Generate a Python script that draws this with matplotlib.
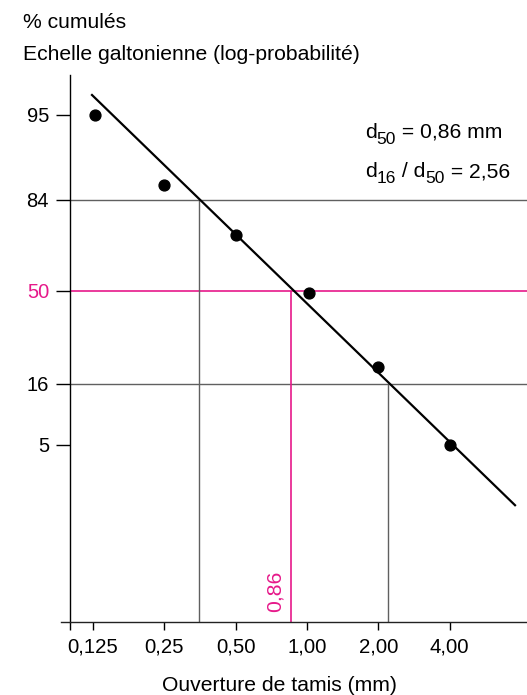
import numpy as np
import matplotlib
matplotlib.use("Agg")
import matplotlib.pyplot as plt

plt.rcParams['font.family'] = ['Liberation Sans', 'DejaVu Sans']

# ---- data ----
sieve_mm = [0.128, 0.25, 0.5, 1.02, 2.0, 4.0]
cum_pct = [95, 86, 71, 49, 22, 5]
fit_x = [0.124, 7.54]
fit_pct = [97.0, 3.3]
d84, d50, d16 = 0.35, 0.86, 2.2
x_ticks = [0.1, 0.125, 0.25, 0.5, 1.0, 2.0, 4.0]
x_labels = ['', '0,125', '0,25', '0,50', '1,00', '2,00', '4,00']
y_ticks = [5, 16, 50, 84, 95]
y_labels = ['5', '16', '50', '84', '95']

MAG = '#e6198a'
GRAY = '#606060'

# galtonian (probability-like) scale anchors, as drawn in the figure
P_A = np.array([0.01, 5, 16, 50, 84, 95, 99])
Y_A = np.array([-331.6, -154, -93, 0, 90.7, 175.7, 215.7])

def fwd(p):
    p = np.asarray(p, float)
    y = np.interp(p, P_A, Y_A)
    s0 = (Y_A[1] - Y_A[0]) / (P_A[1] - P_A[0])
    s1 = (Y_A[-1] - Y_A[-2]) / (P_A[-1] - P_A[-2])
    y = np.where(p < P_A[0], Y_A[0] + (p - P_A[0]) * s0, y)
    y = np.where(p > P_A[-1], Y_A[-1] + (p - P_A[-1]) * s1, y)
    return y

def inv(y):
    y = np.asarray(y, float)
    p = np.interp(y, Y_A, P_A)
    s0 = (P_A[1] - P_A[0]) / (Y_A[1] - Y_A[0])
    s1 = (P_A[-1] - P_A[-2]) / (Y_A[-1] - Y_A[-2])
    p = np.where(y < Y_A[0], P_A[0] + (y - Y_A[0]) * s0, p)
    p = np.where(y > Y_A[-1], P_A[-1] + (y - Y_A[-1]) * s1, p)
    return p

W, H = 527, 695
fig = plt.figure(figsize=(W / 100, H / 100), dpi=100)
ax = fig.add_axes([60.7 / W, 1 - 622.3 / H, 1 - 60.7 / W, (622.3 - 75) / H])

ax.set_xscale('log', base=2)
ax.set_yscale('function', functions=(fwd, inv))
ax.set_xlim(0.0915, 8.47)
ax.set_ylim(0.01, 99)

# reference lines
xl = ax.get_xlim()
ax.hlines([84, 16], x_ticks[0], xl[1], color=GRAY, lw=1.0, zorder=1)
ax.hlines(50, x_ticks[0], xl[1], color=MAG, lw=1.2, zorder=1)
ax.vlines([d84], 0.01, 84, color=GRAY, lw=1.0, zorder=1)
ax.vlines([d16], 0.01, 16, color=GRAY, lw=1.0, zorder=1)
ax.vlines([d50], 0.01, 50, color=MAG, lw=1.2, zorder=1)

# fit line and points
ax.plot(fit_x, fit_pct, color='black', lw=1.6, zorder=3)
ax.plot(sieve_mm, cum_pct, 'o', color='black', ms=7.8, zorder=4)

# axes styling
for s in ['top', 'right']:
    ax.spines[s].set_visible(False)
ax.spines['left'].set_position(('data', x_ticks[0]))
ax.spines['left'].set_linewidth(1.0)
ax.spines['bottom'].set_linewidth(1.0)
ax.spines['bottom'].set_color('#222222')

ax.set_xticks(x_ticks)
ax.set_xticklabels(x_labels)
ax.xaxis.set_minor_locator(matplotlib.ticker.NullLocator())
ax.set_yticks(y_ticks)
ax.set_yticklabels(y_labels)
ax.yaxis.set_minor_locator(matplotlib.ticker.NullLocator())
ax.tick_params(axis='x', length=6, width=1.0, pad=5, labelsize=14.7)
ax.tick_params(axis='y', length=10, width=1.0, pad=5, labelsize=14.5)

for t, v in zip(ax.yaxis.get_major_ticks(), y_ticks):
    if v == 50:
        t.tick1line.set_color(MAG)
        t.label1.set_color(MAG)

FS = 15.2
# texts
fig.text(22.7 / W, 1 - 28 / H, '% cumulés', fontsize=FS, ha='left', va='baseline')
fig.text(22.7 / W, 1 - 60 / H, 'Echelle galtonienne (log-probabilité)', fontsize=FS,
         ha='left', va='baseline')
fig.text(279 / W, 1 - 691 / H, 'Ouverture de tamis (mm)', fontsize=FS, ha='center',
         va='baseline')

renderer = fig.canvas.get_renderer()

def rich(x_px, base_px, pieces):
    x = x_px
    for s, size, dy in pieces:
        t = fig.text(x / W, 1 - (base_px + dy) / H, s, fontsize=size, ha='left',
                     va='baseline')
        bb = t.get_window_extent(renderer=renderer)
        x += bb.width

SUB = 12.5
rich(365, 138, [('d', FS, 0), ('50', SUB, 6), (' = 0,86 mm', FS, 0)])
rich(365, 177, [('d', FS, 0), ('16', SUB, 6), (' / d', FS, 0), ('50', SUB, 6),
                (' = 2,56', FS, 0)])

ax.annotate('0,86', xy=(d50, 0.01), xytext=(-5, 7.5), textcoords='offset points',
            rotation=90, color=MAG, fontsize=FS, ha='right', va='bottom')

fig.savefig('out.png', dpi=100)
